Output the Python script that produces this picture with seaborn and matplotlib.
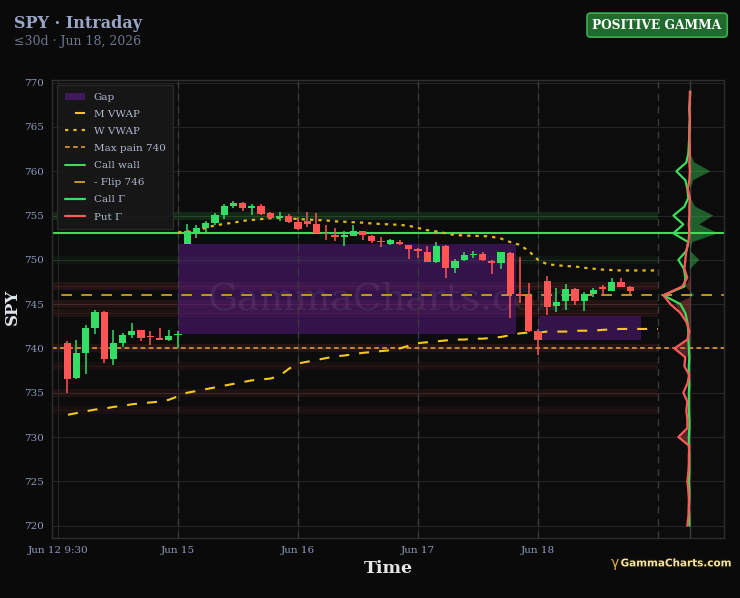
import numpy as np
import matplotlib
matplotlib.use("Agg")
import matplotlib.pyplot as plt
import matplotlib.patheffects as pe
from matplotlib.patches import Patch
from matplotlib.lines import Line2D
import seaborn as sns

# 30 min candles, x = bar number (13 bars per session)
opens = [740.6, 736.7, 739.5, 742.3, 744.1, 738.8, 740.6, 741.5, 742.05, 741.35, 741.2, 741.0, 741.55,
         751.8, 753.2, 753.6, 754.15, 755.1, 756.1, 756.45, 755.9, 756.1, 755.25, 754.7, 754.95, 754.3,
         754.4, 754.1, 753.05, 752.85, 752.6, 752.7, 753.25, 752.65, 752.1, 751.75, 752.05, 751.65, 751.25,
         750.85, 749.8, 751.6, 749.05, 749.95, 750.55, 750.7, 749.9, 749.6, 750.8, 746.1, 745.9, 742.0,
         747.65, 744.8, 745.3, 746.75, 745.3, 746.2, 746.9, 746.5, 747.45, 746.95]
highs = [740.8, 741.0, 742.6, 744.3, 744.2, 742.1, 741.7, 742.9, 742.1, 742.0, 742.3, 742.1, 742.0,
         754.0, 753.9, 754.4, 755.25, 756.25, 756.6, 756.5, 756.25, 756.25, 755.35, 755.4, 755.15, 754.85,
         755.35, 755.25, 753.9, 753.65, 753.3, 753.9, 753.3, 752.8, 752.6, 752.35, 752.2, 751.7, 751.3,
         751.6, 752.05, 751.65, 750.15, 750.85, 751.0, 750.85, 749.95, 750.9, 750.85, 750.3, 747.4, 742.2,
         748.2, 746.85, 747.25, 746.8, 746.4, 746.8, 747.15, 748.0, 747.9, 747.0]
lows = [735.0, 736.5, 737.1, 741.6, 738.4, 738.1, 740.2, 741.2, 740.8, 740.4, 740.9, 740.8, 740.0,
        751.8, 752.5, 753.05, 753.95, 754.6, 755.9, 755.5, 755.1, 755.05, 754.65, 754.4, 754.2, 753.35,
        753.7, 753.0, 752.2, 752.15, 751.6, 752.7, 752.2, 751.85, 751.4, 751.65, 751.65, 750.1, 750.2,
        749.75, 749.6, 747.9, 748.55, 749.9, 750.25, 749.9, 748.35, 749.0, 743.4, 745.1, 741.9, 739.25,
        743.75, 744.15, 744.35, 744.9, 744.25, 745.85, 746.2, 746.5, 746.95, 746.2]
closes = [736.6, 739.5, 742.3, 744.1, 738.8, 740.6, 741.5, 742.0, 741.2, 741.25, 740.9, 741.4, 741.65,
          753.25, 753.6, 754.15, 755.1, 756.05, 756.45, 755.8, 756.05, 755.15, 754.7, 754.95, 754.3, 753.45,
          754.0, 753.05, 752.95, 752.6, 752.8, 753.25, 752.8, 752.1, 752.0, 752.2, 751.75, 751.2, 751.0,
          749.8, 751.6, 749.05, 749.85, 750.5, 750.7, 749.95, 749.65, 750.85, 746.15, 745.95, 742.0, 740.9,
          744.7, 745.25, 746.75, 745.3, 746.15, 746.55, 746.7, 747.45, 746.95, 746.45]
bars = np.arange(1, len(opens) + 1)

tick_pos = [0, 13, 26, 39, 52]
tick_labels = ["Jun 12 9:30", "Jun 15", "Jun 16", "Jun 17", "Jun 18"]
session_lines = [13, 26, 39, 52, 65]

# monthly / weekly vwap, by bar number (last point carried to the profile edge)
mvwap_x = list(range(0, 63)) + [65]
mvwap = [732.4, 732.5, 732.7, 732.9, 733.1, 733.2, 733.4, 733.5, 733.7, 733.8, 733.9, 734.0, 734.2, 734.6,
         735.0, 735.2, 735.4, 735.6, 735.8, 736.0, 736.2, 736.4, 736.5, 736.6, 736.9, 737.7, 738.3,
         738.5, 738.7, 738.9, 739.1, 739.2, 739.35, 739.5, 739.6, 739.7, 739.8, 740.0, 740.3, 740.6,
         740.7, 740.8, 740.9, 741.0, 741.0, 741.1, 741.1, 741.2, 741.3, 741.5, 741.7, 741.8, 741.8,
         741.9, 741.9, 741.9, 742.0, 742.0, 742.0, 742.1, 742.15, 742.2, 742.2, 742.2]
wvwap_x = list(range(13, 63)) + [65]
wvwap = [753.1, 753.2, 753.3, 753.6, 753.9, 754.05, 754.2, 754.4, 754.5, 754.6, 754.7, 754.75, 754.7, 754.6,
         754.55, 754.5, 754.45, 754.35, 754.3, 754.25, 754.2, 754.1, 754.05, 754.0, 753.95, 753.85, 753.6,
         753.35, 753.2, 753.0, 752.8, 752.75, 752.7, 752.7, 752.6, 752.4, 752.0, 751.7, 751.0, 750.0,
         749.5, 749.4, 749.3, 749.25, 749.1, 749.0, 748.9, 748.85, 748.8, 748.8, 748.8]

call_wall = 753
flip = 746
max_pain = 740

# unfilled gaps: bar range and price range
gap_x0 = [13, 52]
gap_x1 = [49.6, 63.2]
gap_lo = [741.65, 740.9]
gap_hi = [751.8, 743.7]

# highlighted strikes
band_strikes = [755, 750, 747, 745, 744, 740, 738, 735, 733]
band_kind = ["call", "call", "put", "put", "put", "put", "put", "put", "put"]
band_alpha = [0.14, 0.06, 0.10, 0.10, 0.08, 0.10, 0.06, 0.08, 0.05]

# gamma profile by strike (relative units)
strikes = np.arange(720, 770)
call_gamma = np.array([1, 1, 1.5, 1, 1, 1.5, 1, 1, 1, 1.5,
                       1.5, 1, 1, 1.5, 1.5, 1.5, 1, 1.5, 1.5, 1,
                       1.5, 2, 2, 3, 5, 10, 27, 6, 5, 6.5,
                       12, 4, 2, 17, 7, 17, 6, 2, 3, 5,
                       14, 4, 2, 1.5, 1, 1, 0.5, 1, 0.5, 0])
put_gamma = np.array([3, 2, 1.5, 1.5, 2, 3, 2, 1.5, 1.5, 1,
                      12, 3, 3, 4, 3, 7, 3, 1, 6, 5,
                      16, 3, 1, 4, 10, 20, 27, 8, 3, 6,
                      5, 4, 2, 1, 1.5, 1, 1, 0.5, 2.5, 1,
                      0.5, 1, 0.5, 0.5, 1, 0.5, 0.5, 1, 0.5, 0.5])
net_gamma = np.array([0, 0, 0, 0, 0, 0, 0, 0, 0, 0,
                      -12, 0, 0, 0, 0, 0, 0, 0, 0, -2,
                      -16, -2, 0, -3, -10, -15, 4, -5, 0, 0,
                      9, 0, 2, 28, 9, 23, 5, 0, 0, 3,
                      20, 4, 0, 0, 0, 0, 0, 0, 0, 0])
prof_base = 68.5
prof_scale = 0.108

bg = "#0a0a0a"
up_col = "#33dd66"
dn_col = "#ff5555"
green = "#3ddc5a"
red = "#ff5a5a"

sns.set_theme(style="dark", rc={
    "figure.facecolor": bg, "axes.facecolor": "#0c0c0c",
    "axes.edgecolor": "#2e2e2e", "grid.color": "#242424",
    "xtick.color": "#8e9aba", "ytick.color": "#8e9aba",
    "text.color": "#c8cde0"})
plt.rcParams["font.family"] = ["DejaVu Serif"]
plt.rcParams["lines.scale_dashes"] = False

fig = plt.figure(figsize=(7.4, 5.98), dpi=100)
ax = fig.add_axes([0.0703, 0.1003, 0.9081, 0.7659])
xlo, xhi = -0.65, 72.15
ax.set_xlim(xlo, xhi)
ax.set_ylim(718.6, 770.3)

ax.set_axisbelow(True)
ax.grid(True, color="#242424", lw=0.8)
for x in session_lines:
    ax.axvline(x, color="#3a3a3a", lw=1.0, ls=(0, (5, 4)), zorder=1)
ax.axvline(prof_base, color="#3c3c3c", lw=1.0, zorder=1)

# strike bands
for s, kind, a in zip(band_strikes, band_kind, band_alpha):
    c = green if kind == "call" else red
    ax.fill_between([xlo, 65], s - 0.45, s + 0.45, color=c, alpha=a, lw=0, zorder=0.5)
    ax.hlines(s, xlo, 65, color=c, alpha=a * 1.3, lw=0.8, zorder=0.6)

# gaps
gap_col = "#5c1a8a"
for x0, x1, lo, hi in zip(gap_x0, gap_x1, gap_lo, gap_hi):
    ax.fill_between([x0, x1], lo, hi, color=gap_col, alpha=0.5, lw=0, zorder=0.8)

ax.text(0.503, 0.52, "GammaCharts.com", transform=ax.transAxes, fontsize=27,
        color="#a090b0", alpha=0.14, ha="center", va="center", zorder=1)

# levels
ax.axhline(call_wall, color=green, lw=1.5, zorder=2)
ax.axhline(max_pain, color="#c98535", lw=1.4, ls=(0, (3.4, 2.4)), zorder=2)
ax.axhline(flip, color="#c09432", lw=1.4, ls=(7.7, (7.7, 6.7)), zorder=2)

sns.lineplot(x=mvwap_x, y=mvwap, ax=ax, color="#f5c81e", lw=1.5,
             linestyle=(7.2, (7.2, 7.2)), sort=False, estimator=None, zorder=3)
sns.lineplot(x=wvwap_x, y=wvwap, ax=ax, color="#e0b81c", lw=1.6,
             linestyle=(0, (2.4, 3.6)), sort=False, estimator=None, zorder=3)

# candles
o = np.array(opens)
c = np.array(closes)
cols = np.where(c >= o, up_col, dn_col)
ax.vlines(bars, lows, highs, colors=cols, lw=1.1, zorder=4)
ax.bar(bars, np.maximum(np.abs(c - o), 0.12), bottom=np.minimum(o, c), width=0.78,
       color=cols, lw=0, zorder=5)

# gamma profile
net_x = prof_base + net_gamma * prof_scale
ax.fill_betweenx(strikes, prof_base, net_x, where=net_gamma >= 0, interpolate=True,
                 color=green, alpha=0.4, lw=0, zorder=3)
ax.fill_betweenx(strikes, prof_base, net_x, where=net_gamma <= 0, interpolate=True,
                 color=red, alpha=0.3, lw=0, zorder=3)
sns.lineplot(x=prof_base - call_gamma * prof_scale, y=strikes, ax=ax, color=green, lw=1.6,
             sort=False, estimator=None, zorder=4)
sns.lineplot(x=prof_base - put_gamma * prof_scale, y=strikes, ax=ax, color=red, lw=1.6,
             sort=False, estimator=None, zorder=4)

ax.set_xticks(tick_pos)
ax.set_xticklabels(tick_labels)
ax.set_yticks(np.arange(720, 771, 5))
ax.tick_params(axis="both", labelsize=7.5, length=3, width=0.8, color="#8e9aba", pad=3)
ax.set_xlabel("")
ax.set_ylabel("")
for sp in ax.spines.values():
    sp.set_color("#2e2e2e")
    sp.set_linewidth(1.0)

handles = [
    Patch(facecolor=gap_col, alpha=0.6, edgecolor="none", label="Gap"),
    Line2D([], [], color="#f5c81e", lw=1.5, ls=(7.2, (7.2, 7.2)), label="M VWAP"),
    Line2D([], [], color="#e0b81c", lw=1.6, ls=(0, (2.4, 3.6)), label="W VWAP"),
    Line2D([], [], color="#c98535", lw=1.4, ls=(0, (3.4, 2.4)), label="Max pain 740"),
    Line2D([], [], color=green, lw=1.5, label="Call wall"),
    Line2D([], [], color="#c09432", lw=1.4, ls=(7.7, (7.7, 6.7)), label="- Flip 746"),
    Line2D([], [], color=green, lw=1.6, label="Call Γ"),
    Line2D([], [], color=red, lw=1.6, label="Put Γ"),
]
leg = ax.legend(handles=handles, loc="upper left", fontsize=7.5, frameon=True,
                facecolor="#171717", edgecolor="#2c2c2c", framealpha=0.92,
                labelcolor="#b0b8d0", handlelength=2.0, labelspacing=0.75,
                borderpad=0.7, borderaxespad=0.5, fancybox=False)
leg.set_zorder(10)

fig.text(0.019, 0.96, "SPY · Intraday", fontsize=11.5, fontweight="bold",
         color="#9aa6c8", va="center")
fig.text(0.019, 0.931, "≤30d · Jun 18, 2026", fontsize=9, color="#6b7590", va="center")
fig.text(0.888, 0.958, "POSITIVE GAMMA", fontsize=8.8, fontweight="bold", color="white",
         ha="center", va="center",
         bbox=dict(boxstyle="round,pad=0.45,rounding_size=0.3", facecolor="#1f6a2c",
                   edgecolor="#3fae4f", lw=1.2))
fig.text(12 / 740, 0.4866, "SPY", fontsize=12, fontweight="bold", color="#e0e3ec",
         rotation=90, ha="center", va="center")
fig.text(0.5243, 0.05, "Time", fontsize=12.5, fontweight="bold", color="#e6e6e6",
         ha="center", va="center")
fig.text(0.826, 0.058, "γ", fontsize=10, color="#d8b040", ha="left", va="center",
         family=["DejaVu Sans"])
fig.text(0.989, 0.058, "GammaCharts.com", fontsize=7.5, fontweight="bold", color="#f3e2a0",
         ha="right", va="center", family=["DejaVu Sans"],
         path_effects=[pe.withStroke(linewidth=1.5, foreground="#1a1405")])

fig.savefig("out.png", dpi=100, facecolor=bg)
